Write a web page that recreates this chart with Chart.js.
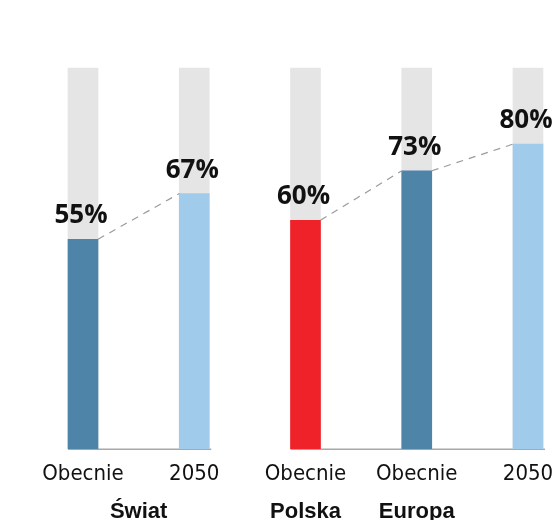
<!DOCTYPE html>
<html>
<head>
<meta charset="utf-8">
<script src="https://cdn.jsdelivr.net/npm/chart.js@4/dist/chart.umd.min.js"></script>
<style>
  html, body { margin: 0; padding: 0; background: #fff; }
  #wrap { width: 560px; height: 520px; }
</style>
</head>
<body>
<div id="wrap"><canvas id="chart"></canvas></div>
<script>
const labels = ['Obecnie', '2050', 'Obecnie', 'Obecnie', '2050'];
const values = [55, 67, 60, 73, 80];
const fullScale = [100, 100, 100, 100, 100];
const barColors = ['#4e84a8', '#a0cbeb', '#ee2228', '#4e84a8', '#a0cbeb'];

// group captions under the ticks: [name, first bar, last bar]
const groupNames = ['Świat', 'Polska', 'Europa'];
const groupFrom = [0, 2, 3];
const groupTo = [1, 2, 3];

// dashed links between bar tops, and grey base lines per block
const links = [[0, 1], [2, 3], [3, 4]];
const baseRuns = [[0, 1], [2, 4]];

const barTops = {
  id: 'barTops',
  beforeDatasetsDraw(chart) {
    const ctx = chart.ctx;
    const bars = chart.getDatasetMeta(0).data;
    const y = chart.scales.y.getPixelForValue(0);
    ctx.save();
    ctx.strokeStyle = '#a8a8a8';
    ctx.lineWidth = 1.5;
    baseRuns.forEach(([a, b]) => {
      ctx.beginPath();
      ctx.moveTo(bars[a].x - bars[a].width / 2, y + 0.75);
      ctx.lineTo(bars[b].x + bars[b].width / 2 + 2, y + 0.75);
      ctx.stroke();
    });
    ctx.restore();
  },
  afterDatasetsDraw(chart) {
    const ctx = chart.ctx;
    const bars = chart.getDatasetMeta(1).data;
    ctx.save();
    ctx.strokeStyle = '#9a9a9a';
    ctx.lineWidth = 1.2;
    ctx.setLineDash([7, 6]);
    links.forEach(([a, b]) => {
      ctx.beginPath();
      ctx.moveTo(bars[a].x + bars[a].width / 2, bars[a].y);
      ctx.lineTo(bars[b].x - bars[b].width / 2, bars[b].y);
      ctx.stroke();
    });
    ctx.setLineDash([]);
    ctx.fillStyle = '#111';
    ctx.font = 'bold 26px "Open Sans"';
    ctx.textAlign = 'center';
    ctx.textBaseline = 'alphabetic';
    bars.forEach((bar, i) => {
      ctx.fillText(values[i] + '%', bar.x - 2, bar.y - 16);
    });
    ctx.restore();
  },
  afterDraw(chart) {
    const ctx = chart.ctx;
    const x = chart.scales.x;
    ctx.save();
    ctx.fillStyle = '#111';
    ctx.font = 'bold 22px "Liberation Sans"';
    ctx.textAlign = 'center';
    ctx.textBaseline = 'alphabetic';
    groupNames.forEach((name, i) => {
      const cx = (x.getPixelForValue(groupFrom[i]) + x.getPixelForValue(groupTo[i])) / 2;
      ctx.fillText(name, cx, chart.chartArea.bottom + 69);
    });
    ctx.restore();
  }
};

new Chart(document.getElementById('chart'), {
  type: 'bar',
  data: {
    labels: labels,
    datasets: [
      {
        data: fullScale,
        backgroundColor: '#e5e5e5',
        barThickness: 30,
        grouped: false,
        order: 2,
        clip: false
      },
      {
        data: values,
        backgroundColor: barColors,
        barThickness: 30,
        grouped: false,
        order: 1,
        clip: false
      }
    ]
  },
  options: {
    responsive: true,
    maintainAspectRatio: false,
    animation: false,
    layout: { padding: { top: 68, left: 83, right: 32, bottom: 29 } },
    plugins: {
      legend: { display: false },
      tooltip: { enabled: false }
    },
    scales: {
      x: {
        offset: false,
        grid: { display: false },
        border: { display: false },
        ticks: {
          color: '#111',
          padding: 4,
          maxRotation: 0,
          autoSkip: false,
          font: { family: '"DejaVu Sans Condensed", "DejaVu Sans"', size: 22 }
        }
      },
      y: {
        display: false,
        min: 0,
        max: 100
      }
    }
  },
  plugins: [barTops]
});
</script>
</body>
</html>
